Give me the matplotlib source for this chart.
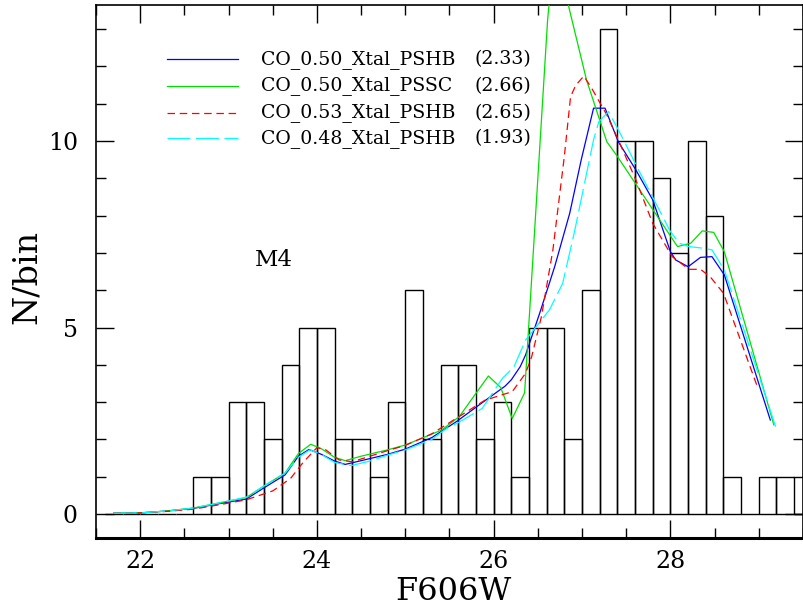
import matplotlib
matplotlib.use("Agg")
import matplotlib.pyplot as plt
import numpy as np

plt.rcParams['font.family'] = ['DejaVu Serif']
plt.rcParams['lines.scale_dashes'] = False

# ---- histogram data (bin width 0.2) ----
bin_left = np.round(np.arange(21.6, 29.41, 0.2), 2)
counts = [0, 0, 0, 0, 0, 1, 1, 3, 3, 2, 4, 5, 5, 2, 2, 1, 3, 6, 2, 4,
          4, 2, 3, 1, 5, 5, 2, 6, 13, 10, 10, 9, 7, 10, 8, 1, 0, 1, 1, 0]
bin_width = 0.2

# ---- model curves ----
blue_x = [21.7, 22.0, 22.3, 22.6, 22.9, 23.2, 23.42, 23.64, 23.79, 23.91, 24.05, 24.2, 24.32,
          24.5, 24.8, 25.0, 25.3, 25.58, 25.85, 26.13, 26.2, 26.3, 26.36, 26.52, 26.69, 26.86,
          26.99, 27.13, 27.26, 27.41, 27.61, 27.8, 28.0, 28.06, 28.2, 28.34, 28.47, 28.61, 29.13]
blue_y = [0.02, 0.03, 0.08, 0.15, 0.28, 0.40, 0.73, 1.05, 1.55, 1.73, 1.60, 1.42, 1.33,
          1.43, 1.60, 1.74, 2.05, 2.48, 2.95, 3.43, 3.60, 3.95, 4.26, 5.38, 6.63, 8.06,
          9.49, 10.88, 10.88, 9.98, 9.22, 8.42, 7.03, 6.81, 6.63, 6.88, 6.90, 6.41, 2.52]

green_x = [21.7, 22.0, 22.3, 22.6, 22.9, 23.2, 23.42, 23.64, 23.79, 23.93, 24.05, 24.2, 24.32,
           24.5, 24.8, 25.0, 25.41, 25.61, 25.94, 26.08, 26.21, 26.35, 26.61, 26.68, 26.84,
           27.05, 27.28, 27.39, 28.08, 28.23, 28.36, 28.49, 28.61, 29.17]
green_y = [0.02, 0.03, 0.08, 0.16, 0.30, 0.44, 0.78, 1.10, 1.62, 1.87, 1.75, 1.52, 1.43,
           1.55, 1.72, 1.85, 2.25, 2.61, 3.70, 3.39, 2.56, 3.25, 13.24, 15.0, 13.69,
           11.64, 9.98, 9.62, 7.17, 7.26, 7.59, 7.55, 7.03, 2.39]

red_x = [21.7, 22.0, 22.3, 22.6, 22.9, 23.2, 23.5, 23.7, 23.85, 24.0, 24.1, 24.25, 24.4,
         24.6, 24.8, 25.0, 25.3, 25.6, 25.9, 26.21, 26.36, 26.43, 26.54, 26.67, 26.8, 26.87,
         26.93, 27.02, 27.11, 27.28, 27.41, 27.61, 27.8, 28.02, 28.21, 28.34, 28.45, 28.6, 28.99]
red_y = [0.02, 0.03, 0.07, 0.13, 0.25, 0.38, 0.62, 0.95, 1.40, 1.78, 1.72, 1.45, 1.40,
         1.55, 1.70, 1.84, 2.15, 2.60, 3.05, 3.28, 3.77, 4.22, 5.29, 7.08, 9.6, 11.19,
         11.5, 11.74, 11.41, 10.70, 10.03, 8.95, 7.79, 6.90, 6.56, 6.56, 6.36, 5.92, 3.37]

cyan_x = [21.7, 22.0, 22.3, 22.6, 22.9, 23.2, 23.42, 23.64, 23.79, 23.92, 24.05, 24.2, 24.39,
          24.6, 24.8, 25.0, 25.3, 25.47, 25.6, 25.87, 26.1, 26.23, 26.36, 26.63, 26.78, 26.91,
          27.13, 27.19, 27.3, 27.47, 27.61, 28.0, 28.1, 28.21, 28.39, 28.47, 28.61, 29.19]
cyan_y = [0.02, 0.03, 0.08, 0.16, 0.30, 0.45, 0.78, 1.10, 1.52, 1.72, 1.60, 1.38, 1.30,
          1.42, 1.58, 1.72, 2.00, 2.30, 2.45, 2.83, 3.64, 3.95, 4.66, 5.47, 6.18, 7.52,
          10.03, 10.52, 10.79, 10.03, 9.36, 7.57, 7.26, 7.17, 7.12, 7.08, 6.54, 2.34]

labels = ["CO_0.50_Xtal_PSHB", "CO_0.50_Xtal_PSSC", "CO_0.53_Xtal_PSHB", "CO_0.48_Xtal_PSHB"]
chi2 = ["(2.33)", "(2.66)", "(2.65)", "(1.93)"]
colors = ["#0000ff", "#00e000", "#ff0000", "#00ffff"]
dashes = [None, None, (5.4, 3.4), (16.5, 4.0)]
curves = [(blue_x, blue_y), (green_x, green_y), (red_x, red_y), (cyan_x, cyan_y)]

fig = plt.figure(figsize=(8.04, 6.08), dpi=100)
ax = fig.add_axes([96 / 804, 70 / 608, 707 / 804, 533 / 608])

ax.bar(bin_left, counts, width=bin_width, align='edge', fill=False,
       edgecolor='black', linewidth=1.0, zorder=1)

lw = 0.9
for (cx, cy), col, d in zip(curves, colors, dashes):
    ln, = ax.plot(cx, cy, color=col, lw=lw, zorder=3)
    if d is not None:
        ln.set_dashes(d)

# legend drawn manually
leg_y = [0.898, 0.848, 0.798, 0.750]
for yy, lab, c2, col, d in zip(leg_y, labels, chi2, colors, dashes):
    ln, = ax.plot([0.1008, 0.2013], [yy, yy], color=col, lw=lw, transform=ax.transAxes)
    if d is not None:
        ln.set_dashes(d)
    ax.text(0.233, yy, lab, transform=ax.transAxes, fontsize=13.6, va='center', ha='left')
    ax.text(0.536, yy, c2, transform=ax.transAxes, fontsize=13.6, va='center', ha='left')

ax.text(23.51, 6.81, "M4", fontsize=16.5, ha='center', va='center')

ax.set_xlim(21.644, 29.5)
ax.set_ylim(-0.643, 13.646)
ax.set_xticks([22, 24, 26, 28])
ax.set_xticks(np.arange(21.5, 29.6, 0.5), minor=True)
ax.set_yticks([0, 5, 10])
ax.set_yticks(np.arange(0, 14, 1), minor=True)

ax.tick_params(which='both', direction='in', top=True, right=True, width=1.0)
ax.tick_params(which='major', length=13)
ax.tick_params(which='minor', length=7)
ax.tick_params(axis='x', which='major', labelsize=17, pad=9)
ax.tick_params(axis='y', which='major', labelsize=17, pad=13)

for s in ['left', 'top', 'right']:
    ax.spines[s].set_linewidth(1.2)
ax.spines['bottom'].set_linewidth(2.2)

ax.set_xlabel("F606W", fontsize=23)
ax.set_ylabel("N/bin", fontsize=24)
ax.xaxis.set_label_coords(0.505, -0.1)
ax.xaxis.label.set_va('center')
ax.yaxis.set_label_coords(-0.0976, 0.49)
ax.yaxis.label.set_va('center')
ax.yaxis.label.set_ha('center')

fig.savefig("out.png", dpi=100)
